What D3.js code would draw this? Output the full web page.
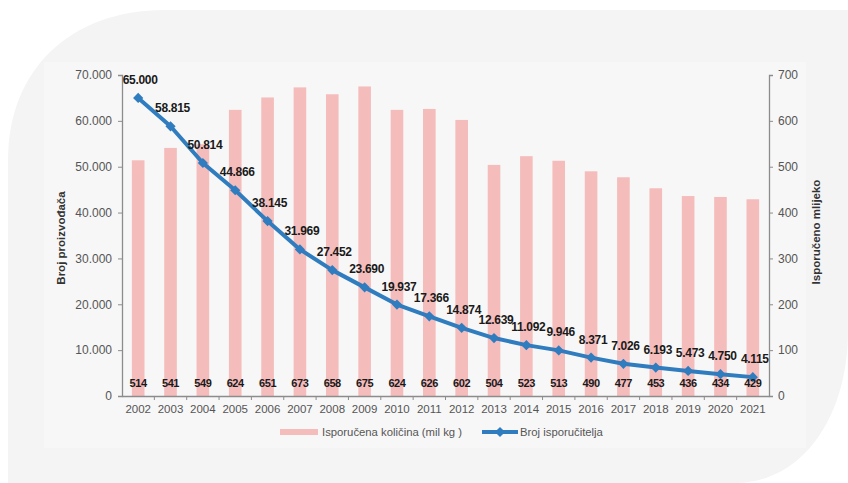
<!DOCTYPE html>
<html>
<head>
<meta charset="utf-8">
<script src="https://cdn.jsdelivr.net/npm/d3@7"></script>
<style>
  html, body { margin: 0; padding: 0; background: #ffffff; }
  svg { display: block; }
</style>
</head>
<body>
<svg id="chart" width="848" height="483"></svg>
<script>
// Years on the category axis
const years = ["2002","2003","2004","2005","2006","2007","2008","2009","2010","2011",
               "2012","2013","2014","2015","2016","2017","2018","2019","2020","2021"];
// Delivered milk, million kg (right axis, bars)
const delivered = [514, 541, 549, 624, 651, 673, 658, 675, 624, 626,
                   602, 504, 523, 513, 490, 477, 453, 436, 434, 429];
// Number of suppliers (left axis, line)
const suppliers = [65000, 58815, 50814, 44866, 38145, 31969, 27452, 23690, 19937, 17366,
                   14874, 12639, 11092, 9946, 8371, 7026, 6193, 5473, 4750, 4115];
// Axis tick values
const leftTicks = [0, 10000, 20000, 30000, 40000, 50000, 60000, 70000];
const rightTicks = [0, 100, 200, 300, 400, 500, 600, 700];
// Legend and axis titles
const seriesNames = ["Isporučena količina (mil kg )", "Broj isporučitelja"];
const leftTitle = "Broj proizvođača";
const rightTitle = "Isporučeno mlijeko";

const svg = d3.select("#chart");
const FONT = "'Liberation Sans', Arial, sans-serif";
const BAR = "#f5bcbc";
const LINE = "#2f7cbf";
const AXIS = "#8c8c8c";
const TICKTXT = "#555555";

// Panel background with large rounded corners (top-left and bottom-right)
svg.append("path")
  .attr("d", "M8,160 C8,70 70,10 165,10 L848,10 L848,330 C848,420 800,483 735,483 L8,483 Z")
  .attr("fill", "#f4f4f4");
// Slightly lighter chart surface
svg.append("rect")
  .attr("x", 44).attr("y", 62).attr("width", 762).attr("height", 386)
  .attr("fill", "#f7f7f7");

const plot = { left: 122, right: 769, top: 75, bottom: 396 };

const x = d3.scaleBand().domain(years).range([plot.left, plot.right]).padding(0);
const yL = d3.scaleLinear().domain([0, 70000]).range([plot.bottom, plot.top]);
const yR = d3.scaleLinear().domain([0, 700]).range([plot.bottom, plot.top]);
const cx = d => x(d) + x.bandwidth() / 2;
const barW = x.bandwidth() * 0.39;
const fmt = d3.formatLocale({ decimal: ",", thousands: ".", grouping: [3], currency: ["", ""] }).format(",d");

// Bars: delivered quantity
svg.append("g").selectAll("rect")
  .data(years)
  .join("rect")
  .attr("x", (d) => cx(d) - barW / 2)
  .attr("width", barW)
  .attr("y", (d, i) => yR(delivered[i]))
  .attr("height", (d, i) => plot.bottom - yR(delivered[i]))
  .attr("fill", BAR);

// Left axis
const axL = svg.append("g")
  .attr("transform", `translate(${plot.left},0)`)
  .call(d3.axisLeft(yL).tickValues(leftTicks).tickFormat(fmt).tickSize(4).tickPadding(6));
// Right axis
const axR = svg.append("g")
  .attr("transform", `translate(${plot.right},0)`)
  .call(d3.axisRight(yR).tickValues(rightTicks).tickSize(4).tickPadding(5));
// Bottom axis: ticks at category boundaries
const axB = svg.append("g")
  .attr("transform", `translate(0,${plot.bottom})`)
  .call(d3.axisBottom(x).tickSize(0).tickPadding(9));
axB.append("g").selectAll("line")
  .data(years.slice(1))
  .join("line")
  .attr("x1", d => x(d)).attr("x2", d => x(d))
  .attr("y1", 0).attr("y2", 4)
  .attr("stroke", AXIS);

[axL, axR, axB].forEach(g => {
  g.select(".domain").attr("stroke", AXIS).attr("stroke-width", 1.3);
  g.selectAll(".tick line").attr("stroke", AXIS);
  g.selectAll("text").attr("fill", TICKTXT).style("font-family", FONT);
});
axL.selectAll("text").style("font-size", "12px");
axR.selectAll("text").style("font-size", "12px");
axB.selectAll("text").style("font-size", "11.5px");

// Line: number of suppliers
svg.append("path")
  .datum(years)
  .attr("fill", "none")
  .attr("stroke", LINE)
  .attr("stroke-width", 4)
  .attr("stroke-linejoin", "round")
  .attr("d", d3.line().x(d => cx(d)).y((d, i) => yL(suppliers[i])));

// Diamond markers (rotated squares)
const marker = d3.symbol().type(d3.symbolSquare).size(52);
svg.append("g").selectAll("path")
  .data(years)
  .join("path")
  .attr("transform", (d, i) => `translate(${cx(d)},${yL(suppliers[i])}) rotate(45)`)
  .attr("d", marker)
  .attr("fill", LINE);

// Line value labels
svg.append("g").selectAll("text")
  .data(years)
  .join("text")
  .attr("x", d => cx(d) + 2)
  .attr("y", (d, i) => yL(suppliers[i]) - 14)
  .attr("text-anchor", "middle")
  .style("font-family", FONT)
  .style("font-size", "12px")
  .style("font-weight", "bold")
  .style("letter-spacing", "-0.3px")
  .attr("fill", "#1a1a1a")
  .text((d, i) => fmt(suppliers[i]));

// Bar value labels
svg.append("g").selectAll("text")
  .data(years)
  .join("text")
  .attr("x", d => cx(d))
  .attr("y", 387)
  .attr("text-anchor", "middle")
  .style("font-family", FONT)
  .style("font-size", "11px")
  .style("font-weight", "bold")
  .style("letter-spacing", "-0.4px")
  .attr("fill", "#1a1a1a")
  .text((d, i) => delivered[i]);

// Axis titles
svg.append("text")
  .attr("transform", "translate(65,238) rotate(-90)")
  .attr("text-anchor", "middle")
  .style("font-family", FONT).style("font-size", "11.5px").style("font-weight", "bold")
  .attr("fill", "#333")
  .text(leftTitle);
svg.append("text")
  .attr("transform", "translate(820,232) rotate(-90)")
  .attr("text-anchor", "middle")
  .style("font-family", FONT).style("font-size", "11.5px").style("font-weight", "bold")
  .attr("fill", "#333")
  .text(rightTitle);

// Legend
const lg = svg.append("g");
lg.append("rect").attr("x", 280).attr("y", 429).attr("width", 38).attr("height", 6).attr("fill", BAR);
lg.append("text").attr("x", 322).attr("y", 436)
  .style("font-family", FONT).style("font-size", "11.3px").attr("fill", TICKTXT)
  .text(seriesNames[0]);
lg.append("line").attr("x1", 482).attr("x2", 518).attr("y1", 432).attr("y2", 432)
  .attr("stroke", LINE).attr("stroke-width", 4);
lg.append("path").attr("transform", "translate(500,432) rotate(45)").attr("d", marker).attr("fill", LINE);
lg.append("text").attr("x", 520).attr("y", 436)
  .style("font-family", FONT).style("font-size", "11.3px").attr("fill", TICKTXT)
  .text(seriesNames[1]);
</script>
</body>
</html>
